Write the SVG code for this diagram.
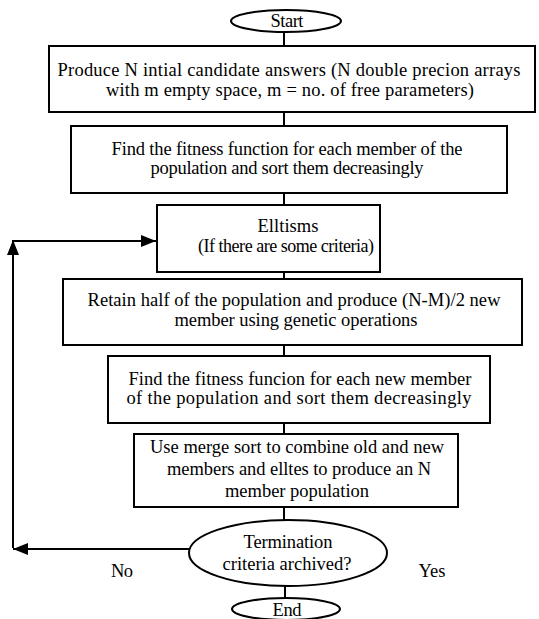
<svg xmlns="http://www.w3.org/2000/svg" width="539" height="619" viewBox="0 0 539 619">
<style>
.s{fill:#fff;stroke:#000;stroke-width:2}
.c{fill:none;stroke:#000;stroke-width:2}
.t{font-family:'Liberation Serif','Times New Roman',serif;font-size:18.5px;fill:#000;text-anchor:middle}
</style>
<defs>
<marker id="ah" markerWidth="16" markerHeight="12" refX="15" refY="6" orient="auto" markerUnits="userSpaceOnUse">
<path d="M0,0 L15,6 L0,12 Z" fill="#000"/>
</marker>
</defs>
<rect width="539" height="619" fill="#fff"/>
<g id="connectors">
<path class="c" d="M284,32 V47"/>
<path class="c" d="M284,112 V127"/>
<path class="c" d="M284,193 V206"/>
<path class="c" d="M284,272 V280"/>
<path class="c" d="M284,345 V357"/>
<path class="c" d="M284,423 V435"/>
<path class="c" d="M284,507 V521"/>
<path class="c" d="M285,585 V598"/>
<path class="c" d="M189,549 H13" marker-end="url(#ah)"/>
<path class="c" d="M13,548 V240" marker-end="url(#ah)"/>
<path class="c" d="M12,241 H156" marker-end="url(#ah)"/>
</g>
<g class="t">
<g id="start"><ellipse class="s" cx="286" cy="21" rx="55" ry="11"/><text x="287" y="27" textLength="33">Start</text></g>
<g id="init"><rect class="s" x="49" y="46" width="486" height="66"/><text x="289" y="76" textLength="463">Produce N intial candidate answers (N double precion arrays</text><text x="290" y="96" textLength="368">with m empty space, m = no. of free parameters)</text></g>
<g id="fitness1"><rect class="s" x="71" y="126" width="436" height="67"/><text x="287" y="155" textLength="351">Find the fitness function for each member of the</text><text x="287" y="174" textLength="273">population and sort them decreasingly</text></g>
<g id="elitism"><rect class="s" x="157" y="205" width="223" height="67"/><text x="288" y="232" textLength="61">Elltisms</text><text x="286" y="252" font-size="18" textLength="176">(If there are some criteria)</text></g>
<g id="retain"><rect class="s" x="63" y="279" width="459" height="66"/><text x="294" y="306" textLength="413">Retain half of the population and produce (N-M)/2 new</text><text x="296" y="326" textLength="243">member using genetic operations</text></g>
<g id="fitness2"><rect class="s" x="108" y="356" width="382" height="67"/><text x="300" y="385" textLength="343">Find the fitness funcion for each new member</text><text x="299" y="404" textLength="345">of the population and sort them decreasingly</text></g>
<g id="merge"><rect class="s" x="134" y="434" width="324" height="73"/><text x="297" y="453" textLength="294">Use merge sort to combine old and new</text><text x="299" y="475" textLength="264">members and elltes to produce an N</text><text x="297" y="497" textLength="144">member population</text></g>
<g id="decision"><ellipse class="s" cx="288" cy="553" rx="99" ry="33"/><text x="288" y="548" textLength="89">Termination</text><text x="287" y="570" textLength="129">criteria archived?</text></g>
<g id="end"><ellipse class="s" cx="286" cy="609" rx="54" ry="11"/><text x="287" y="616" textLength="29">End</text></g>
<text x="122" y="577" textLength="22">No</text>
<text x="432" y="577" textLength="27">Yes</text>
</g>
</svg>
